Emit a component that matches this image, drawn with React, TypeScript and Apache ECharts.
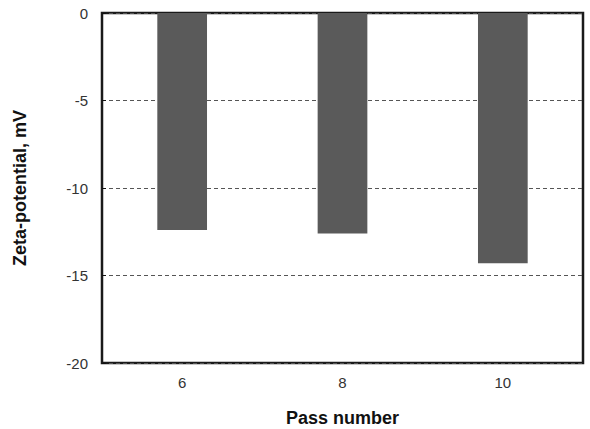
import React, { useEffect, useRef } from "react";
import * as echarts from "echarts";

const categories = ["6", "8", "10"];
const zetaValues = [-12.4, -12.6, -14.3];
const yMin = -20;
const yMax = 0;
const yInterval = 5;

export default function App() {
  const ref = useRef<HTMLDivElement>(null);
  useEffect(() => {
    if (!ref.current) return;
    const chart = echarts.init(ref.current, null, { renderer: "svg" });
    chart.setOption({
      animation: false,
      backgroundColor: "#ffffff",
      grid: {
        left: 102,
        top: 13,
        right: 7,
        bottom: 66,
        outerBoundsMode: "none",
        containLabel: false,
        show: true,
        borderColor: "#1a1a1a",
        borderWidth: 2.5,
        backgroundColor: "transparent",
      },
      xAxis: {
        type: "category",
        data: categories,
        name: "Pass number",
        nameLocation: "middle",
        nameGap: 46,
        nameTextStyle: { fontFamily: "Liberation Sans", fontWeight: "bold", fontSize: 18, lineHeight: 18, color: "#111" },
        axisLine: { show: false },
        axisTick: { show: false },
        axisLabel: { fontFamily: "Liberation Sans", fontSize: 15, color: "#333", margin: 12 },
        splitLine: { show: false },
      },
      yAxis: {
        type: "value",
        min: yMin,
        max: yMax,
        interval: yInterval,
        name: "Zeta-potential, mV",
        nameLocation: "middle",
        nameGap: 73,
        nameRotate: 90,
        nameTextStyle: { fontFamily: "Liberation Sans", fontWeight: "bold", fontSize: 18, color: "#111" },
        axisLine: { show: false },
        axisTick: { show: true, inside: true, length: 4, lineStyle: { color: "#111" } },
        axisLabel: { fontFamily: "Liberation Sans", fontSize: 15, color: "#333", margin: 14 },
        splitLine: { show: true, lineStyle: { color: "#555", type: [4, 3], width: 1 } },
      },
      series: [
        {
          type: "bar",
          data: zetaValues,
          barWidth: "31%",
          itemStyle: { color: "#5a5a5a" },
        },
      ],
    });
    return () => chart.dispose();
  }, []);
  return <div ref={ref} style={{ width: 590, height: 429, position: "absolute", left: 0, top: 0 }} />;
}
